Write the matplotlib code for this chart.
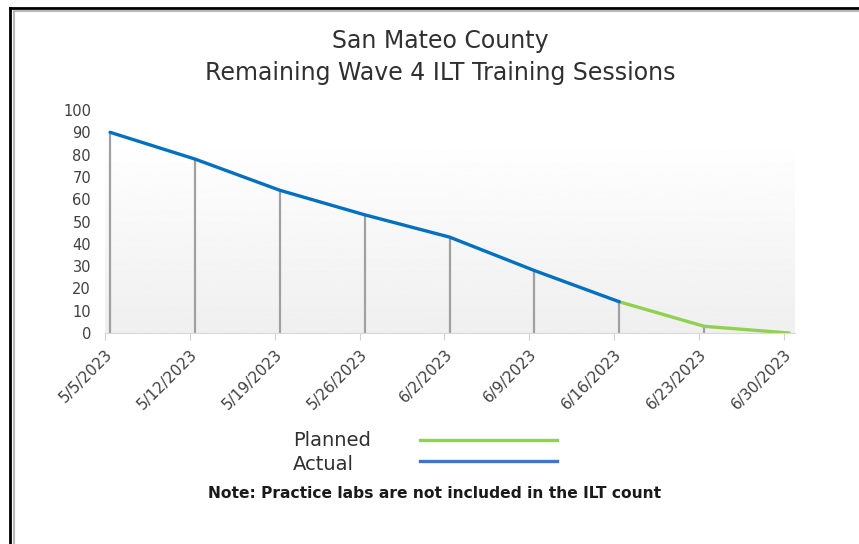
import matplotlib
matplotlib.use("Agg")
import matplotlib.pyplot as plt
import numpy as np
from matplotlib.lines import Line2D

plt.rcParams['font.family'] = ['DejaVu Sans']

dates = ['5/5/2023', '5/12/2023', '5/19/2023', '5/26/2023', '6/2/2023',
         '6/9/2023', '6/16/2023', '6/23/2023', '6/30/2023']
actual = [90, 78, 64, 53, 43, 28, 14]
planned = [14, 3, 0]  # from 6/16 onward
planned_start = 6

fig = plt.figure(figsize=(8.59, 5.44), dpi=100)
W, H = 859, 544

# frame lines like the source screenshot
fig.add_artist(Line2D([10 / W, 10 / W], [0, 1 - 8 / H], color='black', lw=2.0))
fig.add_artist(Line2D([10 / W, 1], [1 - 8 / H, 1 - 8 / H], color='black', lw=2.0))
fig.add_artist(Line2D([13.5 / W, 13.5 / W], [0, 1 - 11 / H], color='#b8b8b8', lw=1.5))
fig.add_artist(Line2D([13.5 / W, 1], [1 - 11 / H, 1 - 11 / H], color='#b8b8b8', lw=1.5))

ax = fig.add_axes([105 / W, 1 - 333 / H, (795 - 105) / W, (333 - 110) / H])
ax.set_facecolor('none')

x = np.arange(len(dates))
xlo, xhi = -0.06, len(dates) - 1 + 0.07
ax.set_xlim(xlo, xhi)
ax.set_ylim(0, 100)

# gradient plot area
grad = np.linspace(0.937, 0.997, 256).reshape(-1, 1)
ax.imshow(grad, cmap='gray', vmin=0, vmax=1, aspect='auto',
          extent=[xlo, xhi, 0, 83], origin='lower', zorder=0)

# drop lines
xa = x[:len(actual)]
xp = x[planned_start:planned_start + len(planned)]
ax.vlines(xa, 0, actual, color='#a0a0a0', lw=1.6, zorder=1)
ax.vlines(xp[1:], 0, planned[1:], color='#a0a0a0', lw=1.6, zorder=1)

ax.plot(xp, planned, color='#92d050', lw=2.4, solid_capstyle='round', zorder=2)
ax.plot(xa, actual, color='#0070c0', lw=2.4, solid_capstyle='round', zorder=3)

ax.set_yticks(np.arange(0, 101, 10))
ax.tick_params(axis='y', length=0, pad=10, labelsize=10.5, labelcolor='#404040')
# category ticks sit a little left of the points, as in the source
ax.set_xticks(x - 0.06)
ax.set_xticklabels(dates, rotation=45, ha='right', rotation_mode='anchor',
                   fontsize=11, color='#404040')
ax.tick_params(axis='x', length=5, color='#d0d0d0', pad=5)
for s in ['top', 'right', 'left']:
    ax.spines[s].set_visible(False)
ax.spines['bottom'].set_color('#d9d9d9')

fig.text(440 / W, 1 - 41 / H, 'San Mateo County', ha='center', va='center',
         fontsize=17, color='#303030')
fig.text(440 / W, 1 - 73 / H, 'Remaining Wave 4 ILT Training Sessions',
         ha='center', va='center', fontsize=17, color='#303030')

# legend
fig.text(293 / W, 1 - 440 / H, 'Planned', ha='left', va='center', fontsize=14, color='#303030')
fig.text(293 / W, 1 - 464 / H, 'Actual', ha='left', va='center', fontsize=14, color='#303030')
fig.add_artist(Line2D([420 / W, 557 / W], [1 - 440 / H] * 2, color='#92d050', lw=2.4))
fig.add_artist(Line2D([420 / W, 557 / W], [1 - 461 / H] * 2, color='#4472c4', lw=2.4))

fig.text(435 / W, 1 - 494 / H, 'Note: Practice labs are not included in the ILT count',
         ha='center', va='center', fontsize=11.2, fontweight='bold', color='#1a1a1a')

fig.savefig('out.png', dpi=100)
